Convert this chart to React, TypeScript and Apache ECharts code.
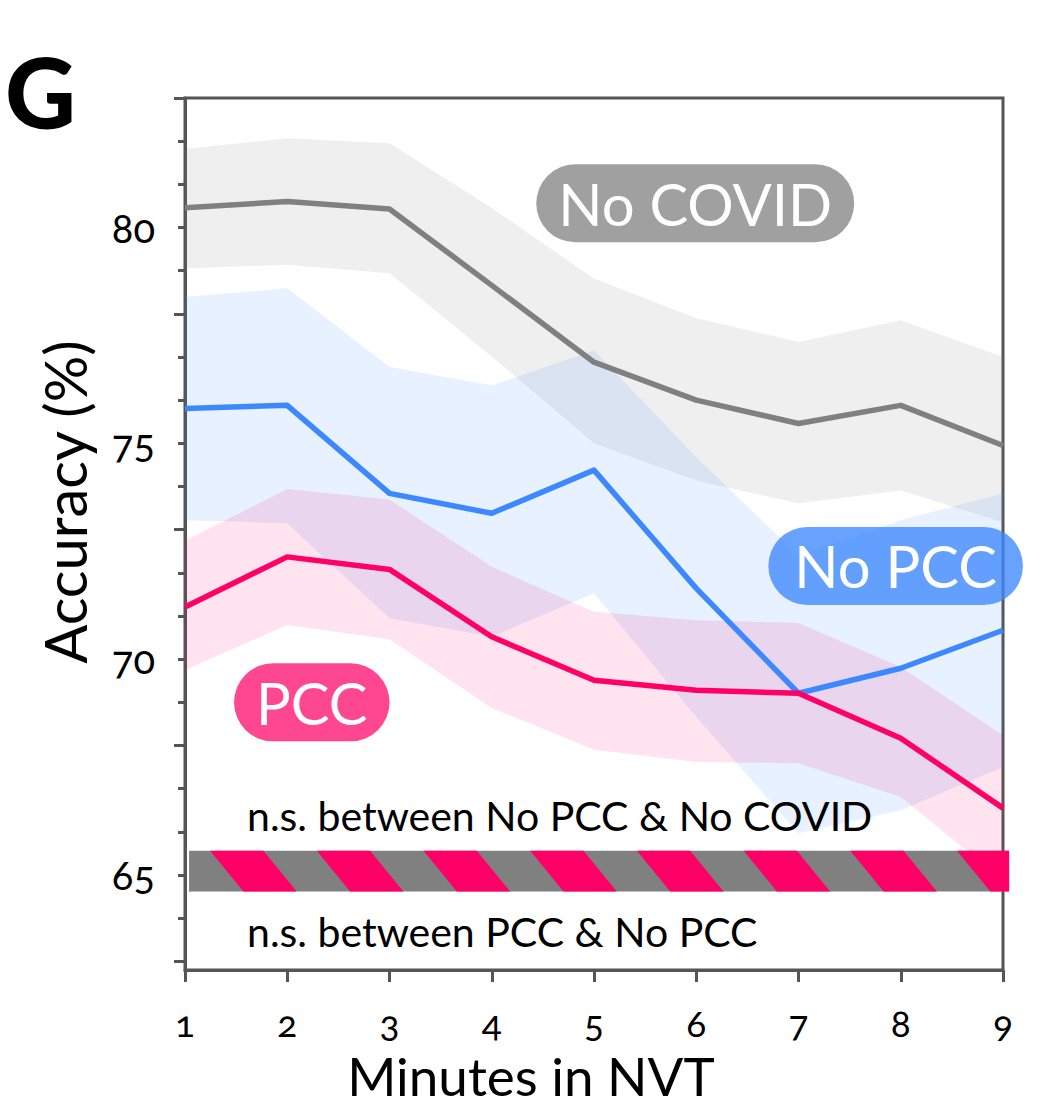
import React, { useEffect, useRef } from "react";
import * as echarts from "echarts";

const MINUTES = [1, 2, 3, 4, 5, 6, 7, 8, 9];

const NO_COVID = [80.46, 80.6, 80.43, 78.66, 76.88, 76.0, 75.46, 75.88, 74.95];
const NO_COVID_UP = [81.82, 82.07, 81.95, 80.45, 78.82, 77.9, 77.35, 77.85, 77.0];
const NO_COVID_LO = [79.05, 79.14, 78.94, 77.01, 75.0, 74.14, 73.61, 73.91, 73.17];

const NO_PCC = [75.81, 75.88, 73.84, 73.38, 74.38, 71.64, 69.21, 69.79, 70.67];
const NO_PCC_UP = [78.39, 78.59, 76.77, 76.34, 77.15, 74.68, 72.4, 73.22, 73.84];
const NO_PCC_LO = [73.22, 73.15, 70.95, 70.52, 71.53, 68.66, 65.97, 66.5, 67.5];

const PCC = [71.21, 72.37, 72.08, 70.52, 69.51, 69.28, 69.21, 68.17, 66.55];
const PCC_UP = [72.75, 73.94, 73.7, 72.14, 71.1, 70.9, 70.84, 69.82, 68.24];
const PCC_LO = [69.75, 70.79, 70.46, 68.87, 67.9, 67.62, 67.59, 66.81, 64.88];

const Y_TICKS = [63, 64, 65, 66, 67, 68, 69, 70, 71, 72, 73, 74, 75, 76, 77, 78, 79, 80, 81, 82, 83];
const Y_MAJOR_TICKS = [63, 68, 73, 78, 83];
const Y_LABELS = [65, 70, 75, 80];

const NS_BAR = { x0: 1.04, x1: 9.06, yTop: 65.56, yBot: 64.62 };

const FONT = "Lato, 'Open Sans', sans-serif";
const AXIS_COLOR = "#555555";

function pairs(ys: number[]) {
  return MINUTES.map((x, i) => [x, ys[i]]);
}

function bandSeries(name: string, up: number[], lo: number[], fill: string) {
  return {
    type: "custom",
    name,
    silent: true,
    data: [[0]],
    renderItem: (_params: any, api: any) => {
      const pts: number[][] = [];
      for (let i = 0; i < MINUTES.length; i++) pts.push(api.coord([MINUTES[i], up[i]]));
      for (let i = MINUTES.length - 1; i >= 0; i--) pts.push(api.coord([MINUTES[i], lo[i]]));
      return { type: "polygon", shape: { points: pts }, style: { fill } };
    },
  };
}

function lineSeries(name: string, ys: number[], color: string) {
  return {
    type: "line",
    name,
    data: pairs(ys),
    symbol: "none",
    silent: true,
    lineStyle: { color, width: 5.5, join: "round" },
  };
}

function clipPoly(poly: number[][], L: number, R: number) {
  const clip = (pts: number[][], inside: (p: number[]) => boolean, edgeX: number) => {
    const out: number[][] = [];
    for (let i = 0; i < pts.length; i++) {
      const a = pts[i];
      const b = pts[(i + 1) % pts.length];
      const ia = inside(a);
      const ib = inside(b);
      if (ia) out.push(a);
      if (ia !== ib) {
        const t = (edgeX - a[0]) / (b[0] - a[0]);
        out.push([edgeX, a[1] + t * (b[1] - a[1])]);
      }
    }
    return out;
  };
  let p = clip(poly, (q) => q[0] >= L, L);
  p = clip(p, (q) => q[0] <= R, R);
  return p;
}

function labelSeries(text: string, pos: number[], bg: string, padH: number) {
  return {
    type: "scatter",
    silent: true,
    symbolSize: 1,
    itemStyle: { color: "transparent", opacity: 1 },
    data: [pos],
    z: 10,
    label: {
      show: true,
      position: "inside",
      formatter: text,
      color: "#ffffff",
      fontFamily: FONT,
      fontSize: 58,
      lineHeight: 60,
      backgroundColor: bg,
      borderRadius: 40,
      padding: [9, padH, 9, padH],
    },
  };
}

export default function App() {
  const ref = useRef<HTMLDivElement>(null);

  useEffect(() => {
    document.body.style.margin = "0";
    const chart = echarts.init(ref.current!, null, { renderer: "svg" });
    const option: any = {
      animation: false,
      backgroundColor: "#ffffff",
      grid: {
        left: 185,
        right: 49,
        top: 98,
        bottom: 136,
        show: true,
        borderColor: AXIS_COLOR,
        borderWidth: 3,
        backgroundColor: "transparent",
      },
      xAxis: {
        type: "value",
        min: 1,
        max: 9,
        interval: 1,
        axisLine: { lineStyle: { color: AXIS_COLOR, width: 3 } },
        axisTick: { length: 12, lineStyle: { color: AXIS_COLOR, width: 3 } },
        axisLabel: { fontFamily: FONT, fontSize: 37, lineHeight: 34, color: "#000", margin: 35 },
        splitLine: { show: false },
      },
      yAxis: [
        {
          type: "value",
          min: 62.8,
          max: 83,
          axisLine: { show: true, lineStyle: { color: AXIS_COLOR, width: 3 } },
          axisTick: { show: true, length: 7, customValues: Y_TICKS, lineStyle: { color: AXIS_COLOR, width: 3 } },
          axisLabel: {
            customValues: Y_LABELS,
            fontFamily: FONT,
            fontSize: 40,
            color: "#000",
            margin: 30,
            padding: [18, 0, 0, 0],
          },
          splitLine: { show: false },
        },
        {
          type: "value",
          min: 62.8,
          max: 83,
          position: "left",
          axisLine: { show: false },
          axisTick: { show: true, length: 11, customValues: Y_MAJOR_TICKS, lineStyle: { color: AXIS_COLOR, width: 3 } },
          axisLabel: { show: false },
          splitLine: { show: false },
        },
      ],
      series: [
        bandSeries("No COVID band", NO_COVID_UP, NO_COVID_LO, "rgba(128,128,128,0.125)"),
        lineSeries("No COVID", NO_COVID, "#808080"),
        bandSeries("No PCC band", NO_PCC_UP, NO_PCC_LO, "rgba(61,136,255,0.12)"),
        lineSeries("No PCC", NO_PCC, "#3d88ff"),
        bandSeries("PCC band", PCC_UP, PCC_LO, "rgba(255,0,102,0.11)"),
        lineSeries("PCC", PCC, "#ff0066"),
        {
          type: "custom",
          name: "n.s. bar",
          silent: true,
          clip: false,
          z: 5,
          data: [[0]],
          renderItem: (_params: any, api: any) => {
            const p0 = api.coord([NS_BAR.x0, NS_BAR.yTop]);
            const p1 = api.coord([NS_BAR.x1, NS_BAR.yBot]);
            const L = p0[0], R = p1[0], T = p0[1], B = p1[1];
            const period = 106.7, w = 53.3, slant = 33.3, start = 21;
            const children: any[] = [
              { type: "rect", shape: { x: L, y: T, width: R - L, height: B - T }, style: { fill: "#808080" } },
            ];
            for (let s = L + start - period; s < R; s += period) {
              const poly = clipPoly(
                [
                  [s, T],
                  [s + w, T],
                  [s + w + slant, B],
                  [s + slant, B],
                ],
                L,
                R
              );
              if (poly.length >= 3) children.push({ type: "polygon", shape: { points: poly }, style: { fill: "#ff0066" } });
            }
            return { type: "group", children };
          },
        },
        labelSeries("No COVID", [5.99, 80.56], "rgba(128,128,128,0.75)", 22),
        labelSeries("No PCC", [7.95, 72.16], "rgba(61,136,255,0.78)", 26),
        labelSeries("PCC", [2.24, 69.0], "rgba(255,0,102,0.72)", 22),
      ],
      graphic: [
        {
          type: "text",
          x: 5,
          y: 91,
          style: { text: "G", fontFamily: FONT, fontWeight: 900, fontSize: 98, fill: "#000", verticalAlign: "middle" },
        },
        {
          type: "text",
          x: 64,
          y: 502,
          rotation: Math.PI / 2,
          style: { text: "Accuracy (%)", fontFamily: FONT, fontSize: 58, fill: "#000", align: "center", verticalAlign: "middle" },
        },
        {
          type: "text",
          x: 531,
          y: 1075,
          style: { text: "Minutes in NVT", fontFamily: FONT, fontSize: 53, lineHeight: 50, fill: "#000", align: "center", verticalAlign: "middle" },
        },
        {
          type: "text",
          x: 247,
          y: 815,
          z: 20,
          style: { text: "n.s. between No PCC & No COVID", fontFamily: FONT, fontSize: 41, fill: "#000", verticalAlign: "middle" },
        },
        {
          type: "text",
          x: 247,
          y: 931,
          z: 20,
          style: { text: "n.s. between PCC & No PCC", fontFamily: FONT, fontSize: 41, fill: "#000", verticalAlign: "middle" },
        },
      ],
    };
    chart.setOption(option);
    return () => chart.dispose();
  }, []);

  return (
    <>
      <style>{"svg text { font-feature-settings: 'onum' 1; }"}</style>
      <div ref={ref} style={{ width: 1052, height: 1106 }} />
    </>
  );
}
